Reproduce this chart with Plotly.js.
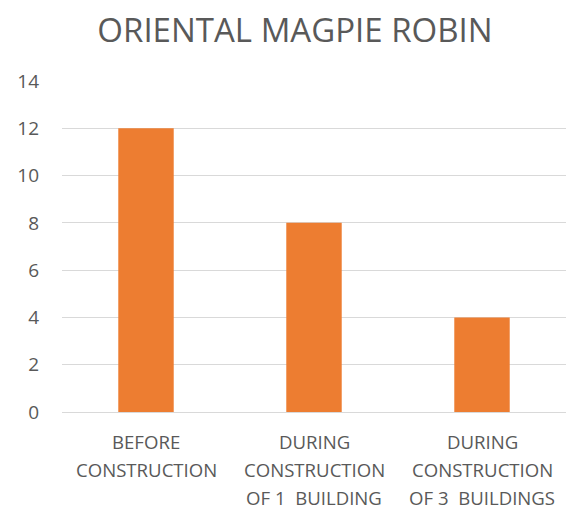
<!DOCTYPE html>
<html>
<head>
<meta charset="utf-8">
<script src="https://cdn.plot.ly/plotly-3.0.1.min.js"></script>
<style>html,body{margin:0;padding:0;background:#fff;}#chart{width:570px;height:513px;}</style>
</head>
<body>
<div id="chart"></div>
<script>
var categories = ["BEFORE CONSTRUCTION", "DURING CONSTRUCTION OF 1 BUILDING", "DURING CONSTRUCTION OF 3 BUILDINGS"];
var labelLines = [
  ["BEFORE", "CONSTRUCTION"],
  ["DURING", "CONSTRUCTION", "OF 1  BUILDING"],
  ["DURING", "CONSTRUCTION", "OF 3  BUILDINGS"]
];
var values = [12, 8, 4];
var yTicks = [0, 2, 4, 6, 8, 10, 12, 14];

var font = "Open Sans, sans-serif";
var grey = "#595959";
var trace = {
  type: "bar",
  x: categories,
  y: values,
  width: 0.33,
  marker: {color: "#ED7D31"},
  hoverinfo: "none"
};
var annotations = [];
labelLines.forEach(function (lines, i) {
  lines.forEach(function (line, j) {
    annotations.push({
      x: categories[i], xref: "x", y: 0, yref: "paper",
      text: line, showarrow: false,
      xanchor: "center", yanchor: "middle",
      yshift: -29 - 28 * j,
      font: {family: font, size: 18.6, color: grey}
    });
  });
});
var layout = {
  width: 570, height: 513,
  margin: {l: 62, r: 4, t: 81, b: 101},
  paper_bgcolor: "#fff", plot_bgcolor: "#fff",
  title: {text: "ORIENTAL MAGPIE ROBIN", font: {family: font, size: 33, color: grey}, x: 0.5175, xanchor: "center", y: 0.9415, yanchor: "middle"},
  xaxis: {
    showticklabels: false,
    showline: true, linecolor: "#d9d9d9", linewidth: 1,
    ticks: "", showgrid: false, fixedrange: true
  },
  yaxis: {
    range: [0, 14], tickvals: yTicks,
    tickfont: {family: font, size: 19, color: grey},
    gridcolor: "#d9d9d9", gridwidth: 1,
    zeroline: false, showline: false, ticks: "", ticklen: 0,
    ticklabelstandoff: 22, fixedrange: true
  },
  annotations: annotations,
  showlegend: false
};
Plotly.newPlot("chart", [trace], layout, {staticPlot: true});
</script>
</body>
</html>
